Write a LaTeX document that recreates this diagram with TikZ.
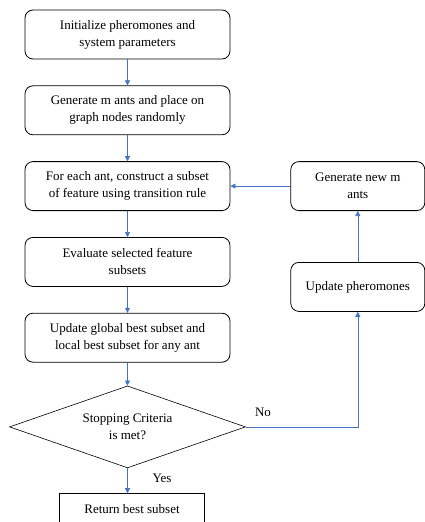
\documentclass[tikz,border=0pt]{standalone}
\usepackage{fontspec}
\setmainfont{Liberation Serif}
\usepackage{xcolor}
\usepackage{tikz}
\usetikzlibrary{shapes.geometric,arrows.meta,positioning}
\definecolor{flowblue}{RGB}{68,114,196}

\begin{document}
\begin{tikzpicture}[arrow/.style = {flowblue,semithick,-{Triangle[length=5pt,width=5pt]}}, node distance=26pt]
		\tikzset{step box/.style={draw,rectangle,rounded corners=8pt,thick,align=center,inner sep=2pt,minimum width=205pt,minimum height=49pt}}
		\tikzset{side box/.style={step box,minimum width=134pt}}
		\tikzset{every node/.style={font=\rmfamily\fontsize{13pt}{17pt}\selectfont}}

		\useasboundingbox (0,0) rectangle (425pt,-522pt);

		% main column
		\node[step box] (init) at (127.5pt,-34.5pt) {Initialize pheromones and\\system parameters};

		\node[step box, below=of init] (genants) {Generate m ants and place on\\graph nodes randomly};

		\node[step box, below=of genants] (construct) {For each ant, construct a subset\\of feature using transition rule};

		\node[step box, below=of construct] (evaluate) {Evaluate selected feature\\subsets};

		\node[step box, below=of evaluate] (best) {Update global best subset and\\local best subset for any ant};

		% decision
		\node[diamond, draw, semithick, aspect=2.88, inner sep=0pt, minimum width=236pt, minimum height=82pt, align=center, below=23pt of best] (stop) {Stopping Criteria\\is met?};

		\node[draw, semithick, rectangle, minimum width=145pt, minimum height=32pt, align=center, below=25pt of stop, xshift=4.5pt] (result) {Return best subset};

		% loop back
		\node[side box, right=60pt of construct] (newants) {Generate new m\\ants};

		\node[side box, below=51pt of newants] (pheromone) {Update pheromones};

		\coordinate (corner) at (stop.east -| pheromone.south);

		% Arrows
		\draw [arrow] (init) -- (genants);
		\draw [arrow] (genants) -- (construct);
		\draw [arrow] (construct) -- (evaluate);
		\draw [arrow] (evaluate) -- (best);
		\draw [arrow] (best) -- (stop);
		\draw [arrow] (stop.south) -- (stop.south |- result.north);
		\draw [arrow] (stop.east) -- (corner) -- (pheromone.south);
		\draw [arrow] (pheromone) -- (newants);
		\draw [arrow] (newants) -- (construct);

		% Labels
		\node (no) at (263pt,-412pt) {No};
		\node (yes) at (162pt,-478pt) {Yes};

	\end{tikzpicture}
\end{document}
